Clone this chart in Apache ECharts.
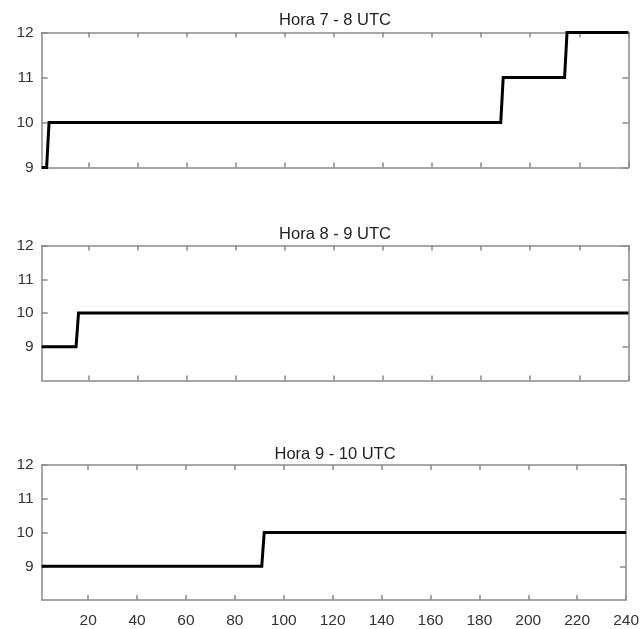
<!DOCTYPE html>
<html>
<head>
<meta charset="utf-8">
<script src="https://cdn.jsdelivr.net/npm/echarts@6/dist/echarts.min.js"></script>
<style>
html,body{margin:0;padding:0;background:#fff;}
#chart{width:642px;height:629px;}
</style>
</head>
<body>
<div id="chart"></div>
<script>
// ---- data ----
const titles = ['Hora 7 - 8 UTC', 'Hora 8 - 9 UTC', 'Hora 9 - 10 UTC'];
const xTicks = [20, 40, 60, 80, 100, 120, 140, 160, 180, 200, 220, 240];
// step series: change points (sample index, value)
const s1x = [1, 3, 4, 188, 189, 214, 215, 240];
const s1y = [9, 9, 10, 10, 11, 11, 12, 12];
const s2x = [1, 15, 16, 240];
const s2y = [9, 9, 10, 10];
const s3x = [1, 91, 92, 240];
const s3y = [9, 9, 10, 10];
const yRanges = [[9, 12], [8, 12], [8, 12]];
const yTickLabels = [9, 10, 11, 12];

// ---- layout ----
const gridTops = [32.5, 245.5, 465];
const titleCenters = [20, 234.5, 454];
const gridH = 135;
const left = 41.7, right = 13.6;
const axisColor = '#8a8a8a';
const textColor = '#333333';
const font = '"Liberation Sans", Arial, Helvetica, sans-serif';

const seriesX = [s1x, s2x, s3x];
const seriesY = [s1y, s2y, s3y];

const grid = [], xAxis = [], yAxis = [], series = [], title = [];
for (let i = 0; i < 3; i++) {
  grid.push({left: left, right: right, top: gridTops[i], height: gridH, containLabel: false});
  title.push({
    text: titles[i], left: (left + (642 - right)) / 2, top: titleCenters[i] - 9,
    textAlign: 'center', padding: 0,
    textStyle: {fontFamily: font, fontSize: 16.5, fontWeight: 'normal', color: '#222', lineHeight: 18}
  });
  const baseX = {
    type: 'value', gridIndex: i, min: 1, max: 240,
    axisLine: {show: true, onZero: false, lineStyle: {color: axisColor, width: 1.5}},
    axisTick: {show: true, inside: true, length: 5, customValues: xTicks, lineStyle: {color: axisColor, width: 1.5}},
    splitLine: {show: false}
  };
  xAxis.push(Object.assign({}, baseX, {
    position: 'bottom',
    axisLabel: {show: i === 2, customValues: xTicks, margin: 13, fontFamily: font, fontSize: 15.5, color: textColor}
  }));
  xAxis.push(Object.assign({}, baseX, {position: 'top', axisLabel: {show: false}}));
  const baseY = {
    type: 'value', gridIndex: i, min: yRanges[i][0], max: yRanges[i][1], interval: 1,
    axisLine: {show: true, onZero: false, lineStyle: {color: axisColor, width: 1.5}},
    axisTick: {show: true, inside: true, length: 6, customValues: yTickLabels, lineStyle: {color: axisColor, width: 1.5}},
    splitLine: {show: false}
  };
  yAxis.push(Object.assign({}, baseY, {
    position: 'left',
    axisLabel: {show: true, customValues: yTickLabels, margin: 8, fontFamily: font, fontSize: 15.5, color: textColor}
  }));
  yAxis.push(Object.assign({}, baseY, {position: 'right', axisLabel: {show: false}}));
  series.push({
    type: 'line', xAxisIndex: i * 2, yAxisIndex: i * 2,
    data: seriesX[i].map((x, k) => [x, seriesY[i][k]]),
    showSymbol: false, clip: false, animation: false,
    lineStyle: {color: '#000', width: 3, join: 'miter'}
  });
}

const chart = echarts.init(document.getElementById('chart'), null, {renderer: 'canvas'});
chart.setOption({
  animation: false,
  backgroundColor: '#fff',
  title: title, grid: grid, xAxis: xAxis, yAxis: yAxis, series: series
});
</script>
</body>
</html>
